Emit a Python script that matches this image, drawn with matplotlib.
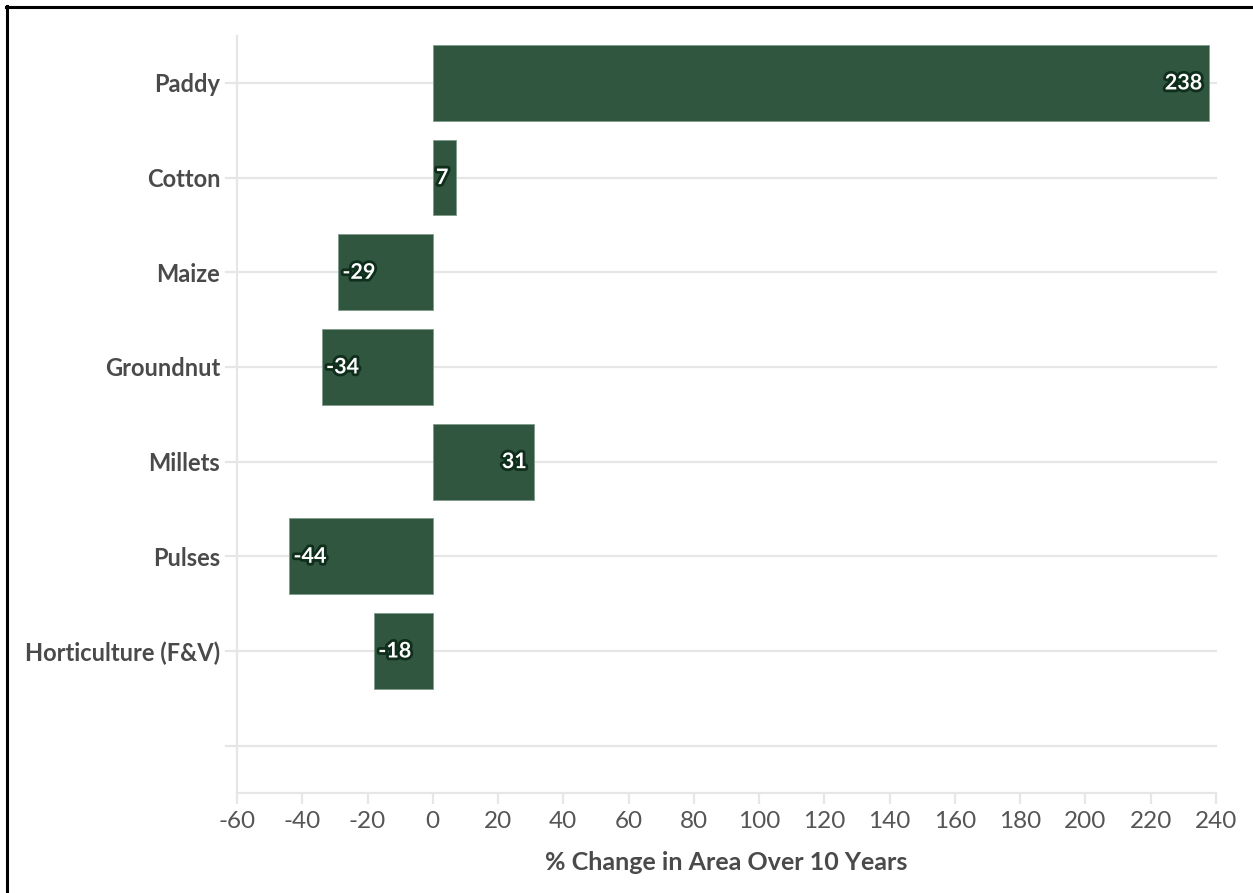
import matplotlib
matplotlib.use("Agg")
import matplotlib.pyplot as plt
import matplotlib.patheffects as pe
from matplotlib.lines import Line2D

categories = ["Paddy", "Cotton", "Maize", "Groundnut", "Millets", "Pulses", "Horticulture (F&V)"]
values = [238, 7, -29, -34, 31, -44, -18]
xticks = list(range(-60, 241, 20))
xlabel = "% Change in Area Over 10 Years"

BAR = "#30563f"
GRID = "#e6e6e6"
TXT = "#4a4a4a"

plt.rcParams['font.family'] = ['Lato', 'DejaVu Sans']

fig = plt.figure(figsize=(12.53, 8.93), dpi=100)
ax = fig.add_axes([237/1253, 1-793/893, (1216-237)/1253, (793-35.6)/893])

n = len(categories)
ypos = list(range(n))
ax.set_ylim(n + 0.5, -0.5)
ax.set_xlim(-60, 240)

# gridlines at category centers plus empty slot
for y in ypos + [n]:
    ax.add_line(Line2D([-63.4, 240], [y, y], color=GRID, lw=1.6, clip_on=False, zorder=0))

ax.barh(ypos, values, height=0.8, color=BAR, edgecolor="#7f9a8a", linewidth=0.6, zorder=2)

for y, v in zip(ypos, values):
    stroke = [pe.withStroke(linewidth=4, foreground="#0f2e1c")]
    if v >= 0:
        ax.text(v - 2.2, y, f"{v}", ha="right", va="center", color="white",
                fontsize=15.5, fontweight="bold", path_effects=stroke, zorder=3)
    else:
        ax.text(v + 1.3, y, f"{v}", ha="left", va="center", color="white",
                fontsize=15.5, fontweight="bold", path_effects=stroke, zorder=3)

ax.set_yticks(ypos)
ax.set_yticklabels(categories, fontsize=17, fontweight="bold", color=TXT)
ax.set_xticks(xticks)
ax.set_xticklabels([str(t) for t in xticks], fontsize=17.5, color="#555555")
ax.tick_params(axis="y", length=0, pad=12)
ax.tick_params(axis="x", length=8, width=1.6, color=GRID, pad=5)

for s in ["top", "right"]:
    ax.spines[s].set_visible(False)
for s in ["left", "bottom"]:
    ax.spines[s].set_color(GRID)
    ax.spines[s].set_linewidth(1.6)

ax.set_xlabel(xlabel, fontsize=18, fontweight="bold", color=TXT, labelpad=14)

# screenshot frame (left and top edges)
fig.add_artist(Line2D([7/1253, 7/1253], [0, 1-6/893], transform=fig.transFigure, color="black", lw=2.2))
fig.add_artist(Line2D([6/1253, 1], [1-7/893, 1-7/893], transform=fig.transFigure, color="black", lw=2.2))

fig.savefig("out.png", dpi=100, facecolor="white")
